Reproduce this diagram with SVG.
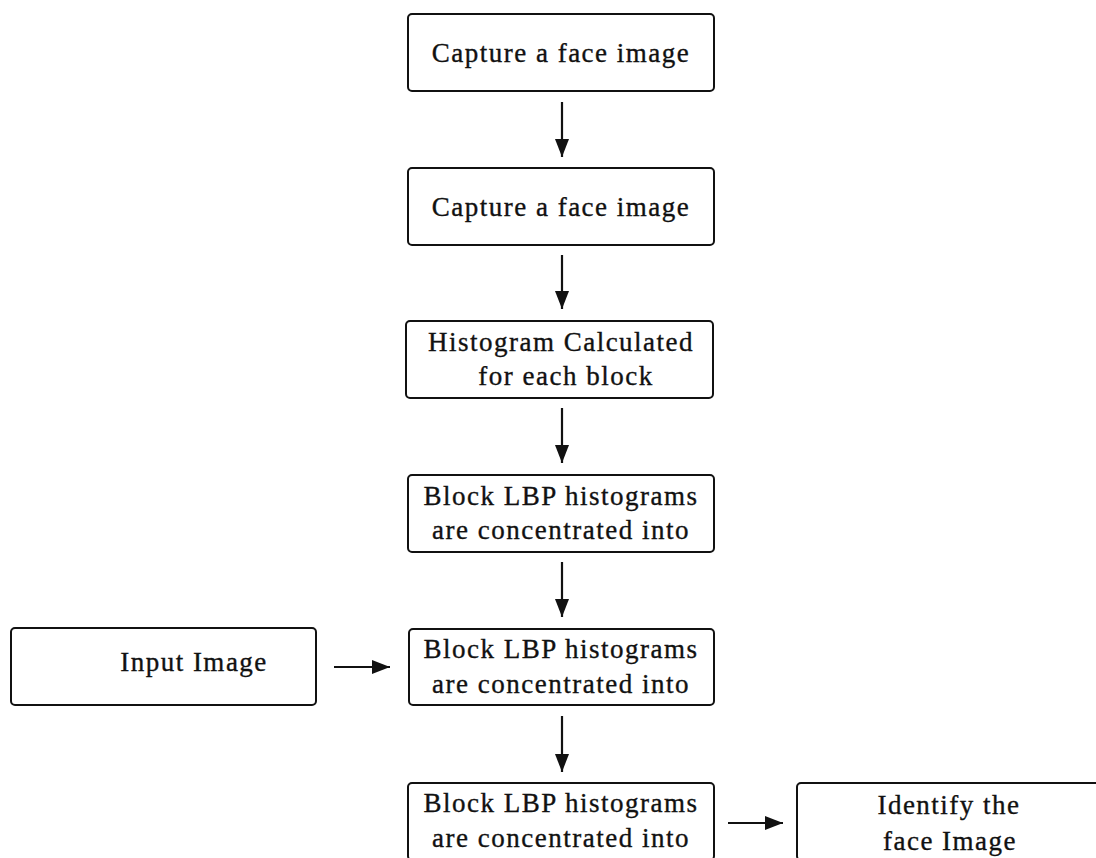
<svg xmlns="http://www.w3.org/2000/svg" width="1096" height="858" viewBox="0 0 1096 858">
  <style>
    .box { fill: #ffffff; stroke: #111111; stroke-width: 2; }
    .lbl { font-family: "Liberation Serif", "Times New Roman", serif; font-size: 27px; letter-spacing: 1.5px; fill: #111111; stroke: #111111; stroke-width: 0.35; text-anchor: middle; }
    .wire { stroke: #111111; stroke-width: 2.2; fill: none; marker-end: url(#head); }
  </style>
  <defs>
    <marker id="head" viewBox="0 0 18 14" refX="18" refY="7" markerWidth="18" markerHeight="14" markerUnits="userSpaceOnUse" orient="auto">
      <path d="M0,0 L18,7 L0,14 z" fill="#111111"/>
    </marker>
  </defs>
  <rect width="1096" height="858" fill="#ffffff"/>

  <g id="capture-1">
    <rect class="box" x="408" y="14" width="306" height="77" rx="4"/>
    <text class="lbl" x="561" y="62">Capture a face image</text>
  </g>
  <g id="capture-2">
    <rect class="box" x="408" y="168" width="306" height="77" rx="4"/>
    <text class="lbl" x="561" y="216">Capture a face image</text>
  </g>
  <g id="histogram">
    <rect class="box" x="406" y="321" width="307" height="77" rx="4"/>
    <text class="lbl" x="561" y="351">Histogram Calculated</text>
    <text class="lbl" x="566" y="385">for each block</text>
  </g>
  <g id="concat-1">
    <rect class="box" x="408" y="475" width="306" height="77" rx="4"/>
    <text class="lbl" x="561" y="505">Block LBP histograms</text>
    <text class="lbl" x="561" y="539">are concentrated into</text>
  </g>
  <g id="input">
    <rect class="box" x="11" y="628" width="305" height="77" rx="4"/>
    <text class="lbl" x="194" y="671">Input Image</text>
  </g>
  <g id="concat-2">
    <rect class="box" x="409" y="629" width="305" height="76" rx="4"/>
    <text class="lbl" x="561" y="658">Block LBP histograms</text>
    <text class="lbl" x="561" y="693">are concentrated into</text>
  </g>
  <g id="concat-3">
    <rect class="box" x="408" y="783" width="306" height="77" rx="4"/>
    <text class="lbl" x="561" y="812">Block LBP histograms</text>
    <text class="lbl" x="561" y="847">are concentrated into</text>
  </g>
  <g id="identify">
    <rect class="box" x="797" y="783" width="310" height="77" rx="4"/>
    <text class="lbl" x="949" y="814">Identify the</text>
    <text class="lbl" x="950" y="850">face Image</text>
  </g>

  <g id="connectors">
    <line class="wire" x1="562" y1="102" x2="562" y2="157"/>
    <line class="wire" x1="562" y1="255" x2="562" y2="309"/>
    <line class="wire" x1="562" y1="408" x2="562" y2="463"/>
    <line class="wire" x1="562" y1="562" x2="562" y2="617"/>
    <line class="wire" x1="562" y1="716" x2="562" y2="772"/>
    <line class="wire" x1="334" y1="667" x2="390" y2="667"/>
    <line class="wire" x1="728" y1="823" x2="783" y2="823"/>
  </g>
</svg>
